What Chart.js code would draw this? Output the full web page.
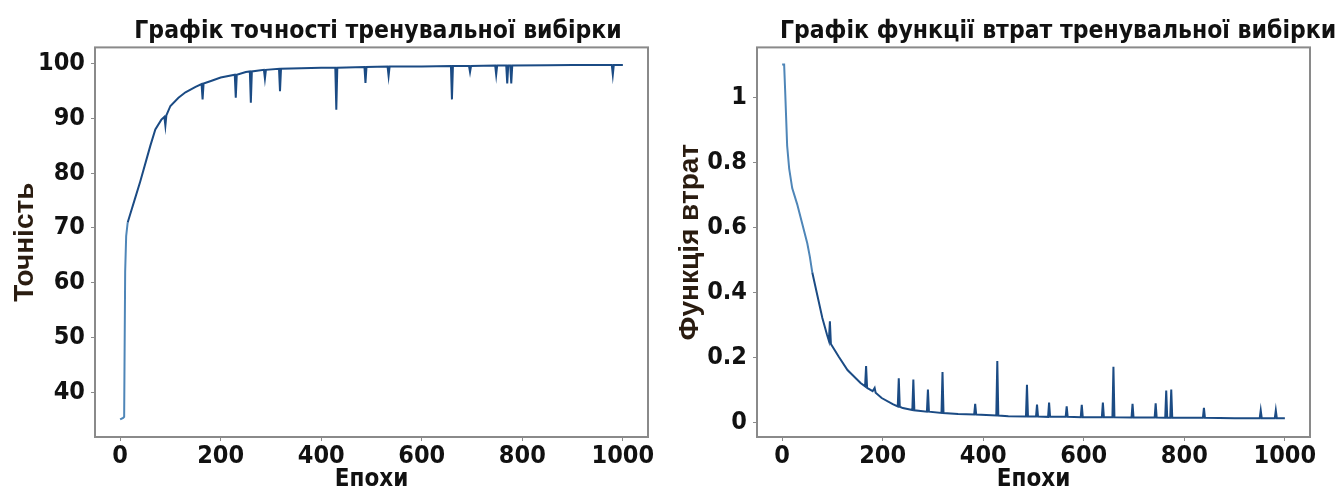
<!DOCTYPE html>
<html>
<head>
<meta charset="utf-8">
<script src="https://cdn.jsdelivr.net/npm/chart.js@4.4.1/dist/chart.umd.min.js"></script>
<style>
  html, body { margin: 0; padding: 0; background: #fff; width: 1335px; height: 488px; overflow: hidden; }
  .box { position: absolute; top: 0; height: 488px; }
  #accBox { left: 0; width: 756px; }
  #lossBox { left: 670px; width: 776px; }
</style>
</head>
<body>
<div class="box" id="accBox"><canvas id="accChart"></canvas></div>
<div class="box" id="lossBox"><canvas id="lossChart"></canvas></div>
<script>
// точність тренувальної вибірки (епоха -> %)
const accEpochs = [0, 6, 8, 10, 12, 15, 20, 30, 40, 52, 60, 70, 82, 88, 90, 92, 100, 116, 130, 150,
  162, 164, 166, 182, 200, 228, 230, 232, 250, 258, 260, 262, 286, 288, 290, 316, 318, 320, 360, 400,
  428, 430, 432, 486, 488, 490, 532, 534, 536, 600, 658, 660, 662, 694, 696, 698, 746, 748, 750,
  768, 770, 772, 776, 778, 780, 850, 900, 978, 980, 982, 1000];
const accValues = [35.0, 35.3, 35.5, 62.0, 68.5, 71.0, 72.5, 75.5, 78.5, 82.4, 85.0, 88.0, 89.8, 90.3, 88.7, 90.6, 92.3, 93.8, 94.8, 95.8,
  96.3, 93.5, 96.4, 96.9, 97.5, 98.0, 93.8, 98.0, 98.5, 98.6, 92.9, 98.6, 98.9, 97.3, 98.9, 99.1, 95.0, 99.1, 99.2, 99.3,
  99.3, 91.6, 99.3, 99.4, 96.5, 99.4, 99.5, 97.8, 99.5, 99.5, 99.6, 93.5, 99.6, 99.6, 98.5, 99.6, 99.7, 98.0, 99.7,
  99.7, 96.4, 99.7, 99.7, 96.4, 99.7, 99.75, 99.8, 99.8, 98.0, 99.8, 99.8];

// функція втрат тренувальної вибірки
const lossEpochs = [0, 4, 6, 10, 14, 20, 30, 40, 50, 55, 60, 70, 80, 89, 93, 95, 97, 105, 113, 130,
  156, 165, 167, 169, 180, 184, 186, 198, 220, 230, 232, 234, 240, 259, 261, 263, 288, 290, 292,
  317, 319, 321, 350, 382, 384, 386, 426, 428, 430, 450, 485, 487, 489, 505, 507, 509, 529, 531, 533,
  564, 566, 568, 594, 596, 598, 618, 636, 638, 640, 657, 659, 661, 695, 697, 699, 741, 743, 745,
  762, 764, 766, 772, 774, 776, 837, 839, 841, 900, 950, 952, 954, 980, 982, 984, 1000];
const lossValues = [1.10, 1.10, 1.02, 0.85, 0.78, 0.72, 0.67, 0.61, 0.55, 0.51, 0.46, 0.39, 0.32, 0.27, 0.25, 0.31, 0.24, 0.22, 0.20, 0.16,
  0.12, 0.11, 0.172, 0.105, 0.095, 0.105, 0.09, 0.074, 0.055, 0.048, 0.135, 0.047, 0.043, 0.037, 0.131, 0.036, 0.032, 0.10, 0.032,
  0.028, 0.154, 0.028, 0.025, 0.023, 0.056, 0.023, 0.02, 0.188, 0.02, 0.018, 0.017, 0.115, 0.017, 0.017, 0.054, 0.017, 0.016, 0.06, 0.016,
  0.016, 0.048, 0.016, 0.015, 0.053, 0.015, 0.015, 0.015, 0.06, 0.015, 0.015, 0.17, 0.015, 0.014, 0.056, 0.014, 0.014, 0.058, 0.014,
  0.013, 0.097, 0.013, 0.013, 0.10, 0.013, 0.013, 0.044, 0.013, 0.012, 0.012, 0.036, 0.012, 0.012, 0.036, 0.012, 0.012];

const xTicks = [0, 200, 400, 600, 800, 1000];
const accTicks = [40, 50, 60, 70, 80, 90, 100];
const lossTicks = [0, 0.2, 0.4, 0.6, 0.8, 1];

const narrow = "'Liberation Sans Narrow', 'Arial Narrow', 'DejaVu Sans Condensed', sans-serif";
const wide = "'Liberation Sans', Arial, sans-serif";
const frameColor = '#8a8a8a';

// рамка навколо області графіка
const framePlugin = {
  id: 'frame',
  afterDraw(chart) {
    const a = chart.chartArea, c = chart.ctx;
    c.save();
    c.strokeStyle = frameColor;
    c.lineWidth = 2;
    c.strokeRect(a.left, a.top, a.right - a.left, a.bottom - a.top);
    c.restore();
  }
};

function makeChart(id, epochs, values, opts) {
  const data = epochs.map((e, i) => ({ x: e, y: values[i] }));
  return new Chart(document.getElementById(id), {
    type: 'line',
    data: {
      datasets: [{
        data: data,
        borderColor: '#1d4f88',
        borderWidth: 2,
        pointRadius: 0,
        tension: 0,
        segment: {
          borderColor: ctx => ctx.p0.parsed.x < opts.lightUntil ? '#4f86b8' : '#1b4b84'
        }
      }]
    },
    options: {
      responsive: true,
      maintainAspectRatio: false,
      animation: false,
      layout: { padding: 0 },
      plugins: {
        legend: { display: false },
        tooltip: { enabled: false },
        title: {
          display: true,
          text: opts.title,
          color: '#111',
          font: { family: narrow, size: 24.5, weight: 'bold', lineHeight: 1.2 },
          padding: { top: 17, bottom: 1 }
        }
      },
      scales: {
        x: {
          type: 'linear',
          min: -50,
          max: 1050,
          afterBuildTicks: s => { s.ticks = xTicks.map(v => ({ value: v })); },
          afterFit: s => { s.height = 51; },
          grid: { display: true, drawOnChartArea: false, tickLength: 4, color: frameColor },
          border: { display: false },
          ticks: { color: '#111', padding: 0, font: { family: narrow, size: 25, weight: 'bold' },
            callback: v => String(v) },
          title: {
            display: true, text: 'Епохи', color: '#111',
            padding: { top: 0, bottom: -4 },
            font: { family: narrow, size: 24, weight: 'bold', lineHeight: 1 }
          }
        },
        y: {
          min: opts.yMin,
          max: opts.yMax,
          afterBuildTicks: s => { s.ticks = opts.yTicks.map(v => ({ value: v })); },
          afterFit: s => { s.width = opts.yWidth; },
          grid: { display: true, drawOnChartArea: false, tickLength: 4, color: frameColor },
          border: { display: false },
          ticks: { color: '#111', padding: 6, font: { family: narrow, size: 25, weight: 'bold' },
            callback: v => String(v) },
          title: {
            display: true, text: opts.yTitle, color: '#2a1c10',
            padding: { top: opts.yTitlePad, bottom: 0 },
            font: { family: wide, size: 28, weight: 'bold', lineHeight: 1 }
          }
        },
        // порожня вісь справа, щоб заголовок був зсунутий як в оригіналі
        yRight: {
          position: 'right',
          display: true,
          grid: { display: false },
          border: { display: false },
          ticks: { display: false },
          afterFit: s => { s.width = opts.rightWidth; }
        }
      }
    },
    plugins: [framePlugin]
  });
}

makeChart('accChart', accEpochs, accValues, {
  title: 'Графік точності тренувальної вибірки',
  yTitle: 'Точність', yTitlePad: 11,
  yMin: 31.8, yMax: 103, yTicks: accTicks,
  yWidth: 95, rightWidth: 108, lightUntil: 15
});

makeChart('lossChart', lossEpochs, lossValues, {
  title: 'Графік функції втрат тренувальної вибірки',
  yTitle: 'Функція втрат', yTitlePad: 6,
  yMin: -0.046, yMax: 1.153, yTicks: lossTicks,
  yWidth: 87, rightWidth: 136, lightUntil: 60
});
</script>
</body>
</html>
